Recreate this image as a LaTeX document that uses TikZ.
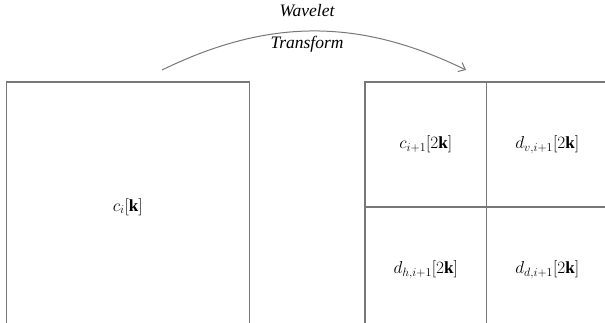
\documentclass[tikz,border=0pt]{standalone}
\usepackage{amsmath,amsfonts,amssymb}
\usepackage{fontspec}
\setmainfont{Liberation Serif}
\usepackage{tikz}
\usepackage{xcolor}
\usetikzlibrary{positioning,arrows.meta}

\definecolor{boxgray}{RGB}{120,120,120}
\tikzset{
  cell/.style={draw=boxgray,line width=1.2pt,minimum width=121.5pt,minimum height=125pt,inner sep=0pt,outer sep=0pt,font=\fontsize{17}{20}\selectfont},
  big/.style={draw=boxgray,line width=1.2pt,minimum width=243pt,minimum height=250pt,inner sep=0pt,outer sep=0pt,font=\fontsize{17}{20}\selectfont},
  caption/.style={font=\fontsize{17.5}{20}\selectfont\itshape,inner sep=0pt}
}

\begin{document}
\begin{tikzpicture}[x=1pt,y=-1pt,>={Straight Barb[length=6pt,width=10pt]},semithick,node distance=0pt]
  \clip (0,0) rectangle (605,323);
  \fill[white] (0,0) rectangle (605,323);

  \node[big] (C_I) at (127.75,207) {$c_i[\mathbf{k}]$};

  \node[cell] (C) at (425.75,144.5) {$c_{i+1}[2\mathbf{k}]$};
  \node[cell] (D_V) [right=0pt of C] {$d_{v,i+1}[2\mathbf{k}]$};
  \node[cell] (D_H) [below=0pt of C] {$d_{h,i+1}[2\mathbf{k}]$};
  \node[cell] (D_D) [right=0pt of D_H] {$d_{d,i+1}[2\mathbf{k}]$};

  \coordinate (from) at (162,70);
  \coordinate (to) at (466,70);
  \path[->] (from) edge[draw=boxgray,bend left=26,line width=1pt] (to);

  \node[caption] (W) at (307,11) {Wavelet};
  \node[caption] (T) at (307,44) {Transform};
\end{tikzpicture}
\end{document}
